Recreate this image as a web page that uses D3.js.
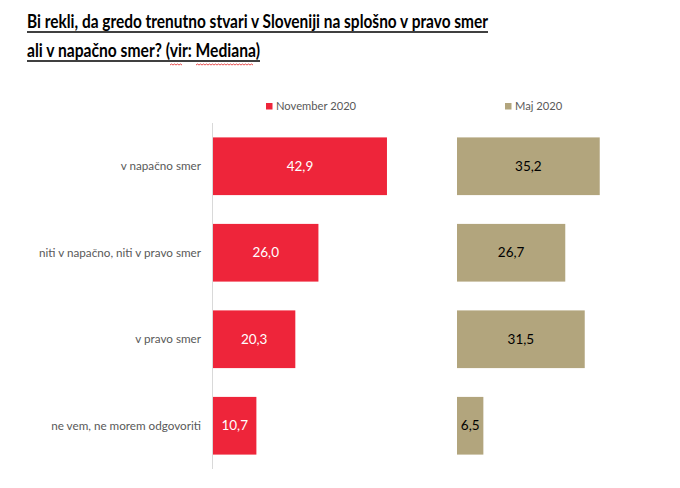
<!DOCTYPE html>
<html><head><meta charset="utf-8">
<script src="https://cdn.jsdelivr.net/npm/d3@7"></script>
<style>body{margin:0;background:#fff}</style>
</head><body>
<svg id="c" width="680" height="488"></svg>
<script>
const categories = ["v napačno smer","niti v napačno, niti v pravo smer","v pravo smer","ne vem, ne morem odgovoriti"];
const november2020 = [42.9, 26.0, 20.3, 10.7];
const maj2020 = [35.2, 26.7, 31.5, 6.5];
const seriesNames = ["November 2020","Maj 2020"];
const titleLines = ["Bi rekli, da gredo trenutno stvari v Sloveniji na splošno v pravo smer","ali v napačno smer? (vir: Mediana)"];

const svg = d3.select("#c");
const font = "Lato, 'Open Sans', sans-serif";
const red = "#EE253A", tan = "#B2A57D";

// title
const tl = [{t:titleLines[0], y:28, w:461},{t:titleLines[1], y:57, w:233}];
tl.forEach(d=>{
  svg.append("text").attr("x",27).attr("y",d.y).text(d.t)
    .attr("font-family",font).attr("font-weight","bold").attr("font-size",18.5)
    .attr("textLength",d.w).attr("lengthAdjust","spacingAndGlyphs").attr("fill","#000");
  svg.append("line").attr("x1",27).attr("x2",27+d.w).attr("y1",d.y+4).attr("y2",d.y+4)
    .attr("stroke","#000").attr("stroke-width",1.6);
});
// spellcheck squiggles under "vir" and "Mediana"
function squiggle(x0,x1,yy){
  let p="M"+x0+","+yy; let up=true;
  for(let x=x0+1.5;x<=x1;x+=1.5){p+="L"+x+","+(up?yy-1:yy); up=!up;}
  svg.append("path").attr("d",p).attr("fill","none").attr("stroke","#e02020").attr("stroke-width",0.8);
}
squiggle(170,183,65);
squiggle(196,253,65);

const y = d3.scaleBand().domain(categories).range([123,469]).paddingInner(0.333).paddingOuter(0.1665);
const x1 = d3.scaleLinear().domain([0,50]).range([213,213+50*4.055]);
const x2 = d3.scaleLinear().domain([0,50]).range([457,457+50*4.055]);

// axis line
svg.append("line").attr("x1",212.5).attr("x2",212.5).attr("y1",123).attr("y2",469).attr("stroke","#d9d9d9").attr("stroke-width",1);

// category labels
svg.selectAll(".cat").data(categories).join("text")
  .attr("x",201).attr("y",d=>y(d)+y.bandwidth()/2).attr("dy","0.35em")
  .attr("text-anchor","end").attr("font-family",font).attr("font-size",11.7).attr("fill","#595959").text(d=>d);

function drawSeries(vals, xs, color, txtColor){
  const g = svg.append("g");
  g.selectAll("rect").data(vals).join("rect")
    .attr("x",xs(0)).attr("y",(d,i)=>y(categories[i])).attr("width",d=>xs(d)-xs(0)).attr("height",y.bandwidth())
    .attr("fill",color);
  g.selectAll("text").data(vals).join("text")
    .attr("x",d=>(xs(0)+xs(d))/2).attr("y",(d,i)=>y(categories[i])+y.bandwidth()/2).attr("dy","0.35em")
    .attr("text-anchor","middle").attr("font-family",font).attr("font-size",13.5).attr("fill",txtColor)
    .text(d=>d3.format(".1f")(d).replace(".",","));
}
drawSeries(november2020, x1, red, "#fff");
drawSeries(maj2020, x2, tan, "#000");

// legends
[[266,red,seriesNames[0]],[505,tan,seriesNames[1]]].forEach(([lx,c,t])=>{
  svg.append("rect").attr("x",lx).attr("y",103).attr("width",6.5).attr("height",6.5).attr("fill",c);
  svg.append("text").attr("x",lx+10).attr("y",109.5).attr("font-family",font).attr("font-size",11.2).attr("fill","#595959").text(t);
});
</script>
</body></html>
